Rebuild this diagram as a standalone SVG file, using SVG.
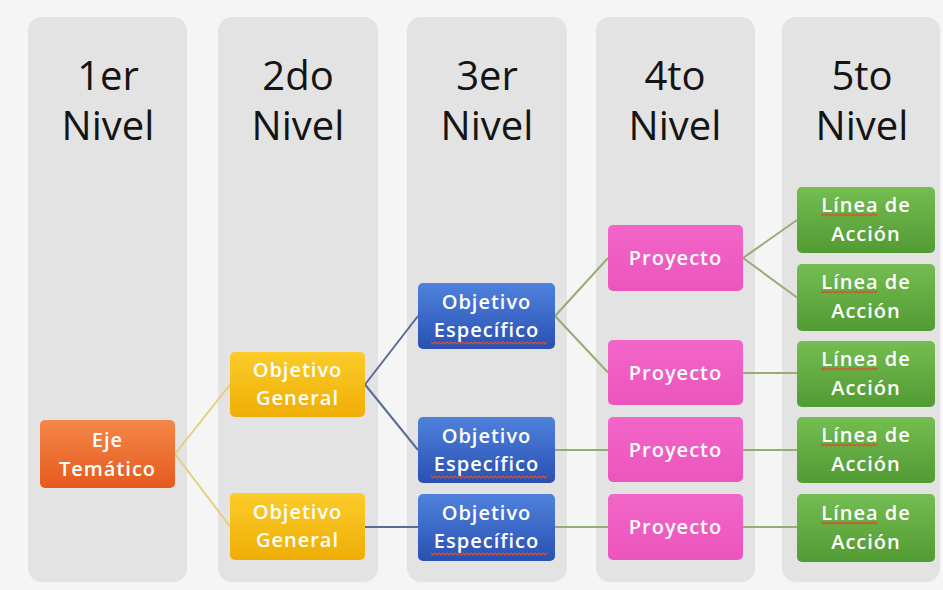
<svg xmlns="http://www.w3.org/2000/svg" width="943" height="590" viewBox="0 0 943 590">
<style>
.col{fill:#e3e3e3}
.title{font-family:"Open Sans","Liberation Sans",sans-serif;font-size:40px;fill:#141414;text-anchor:middle}
.lbl{font-family:"Open Sans","Liberation Sans",sans-serif;font-size:20px;font-weight:600;fill:#ffffff;text-anchor:middle;letter-spacing:1px}
.c1{stroke:#e6cf7e;stroke-width:2;fill:none}
.c2{stroke:#5a6b95;stroke-width:2;fill:none}
.c3{stroke:#93ad75;stroke-width:2;fill:none}
.sq{stroke:#d8502a;stroke-width:1.2;fill:none}
</style>
<defs>
<linearGradient id="gO" x1="0" y1="0" x2="0" y2="1"><stop offset="0" stop-color="#f5874a"/><stop offset="1" stop-color="#e45a1c"/></linearGradient>
<linearGradient id="gY" x1="0" y1="0" x2="0" y2="1"><stop offset="0" stop-color="#fbcc2a"/><stop offset="1" stop-color="#efae05"/></linearGradient>
<linearGradient id="gB" x1="0" y1="0" x2="0" y2="1"><stop offset="0" stop-color="#4f82dc"/><stop offset="1" stop-color="#2950b2"/></linearGradient>
<linearGradient id="gP" x1="0" y1="0" x2="0" y2="1"><stop offset="0" stop-color="#f266c8"/><stop offset="1" stop-color="#ec55bc"/></linearGradient>
<linearGradient id="gG" x1="0" y1="0" x2="0" y2="1"><stop offset="0" stop-color="#74bd51"/><stop offset="1" stop-color="#519b33"/></linearGradient>
<path id="sqE" d="M0 0 l2 2 l2 -2 l2 2 l2 -2 l2 2 l2 -2 l2 2 l2 -2 l2 2 l2 -2 l2 2 l2 -2 l2 2 l2 -2 l2 2 l2 -2 l2 2 l2 -2 l2 2 l2 -2 l2 2 l2 -2 l2 2 l2 -2 l2 2 l2 -2 l2 2 l2 -2 l2 2 l2 -2 l2 2 l2 -2 l2 2 l2 -2 l2 2 l2 -2 l2 2 l2 -2 l2 2 l2 -2 l2 2 l2 -2 l2 2 l2 -2 l2 2 l2 -2 l2 2 l2 -2 l2 2 l2 -2 l2 2 l2 -2 l2 2 l2 -2 l2 2 l2 -2 l2 2 l2 -2"/>
<path id="sqL" d="M0 0 l2 2 l2 -2 l2 2 l2 -2 l2 2 l2 -2 l2 2 l2 -2 l2 2 l2 -2 l2 2 l2 -2 l2 2 l2 -2 l2 2 l2 -2 l2 2 l2 -2 l2 2 l2 -2 l2 2 l2 -2 l2 2 l2 -2 l2 2 l2 -2 l2 2 l2 -2"/>
</defs>
<rect x="0" y="0" width="943" height="590" fill="#f5f5f5"/>
<g id="columns">
<rect class="col" x="28" y="17" width="159" height="565" rx="14"/>
<rect class="col" x="218" y="17" width="160" height="565" rx="14"/>
<rect class="col" x="407" y="17" width="160" height="565" rx="14"/>
<rect class="col" x="596" y="17" width="159" height="565" rx="14"/>
<rect class="col" x="782" y="17" width="158" height="565" rx="14"/>
<text class="title" x="108" y="90">1er</text><text class="title" x="108" y="140">Nivel</text>
<text class="title" x="298" y="90">2do</text><text class="title" x="298" y="140">Nivel</text>
<text class="title" x="487" y="90">3er</text><text class="title" x="487" y="140">Nivel</text>
<text class="title" x="675" y="90">4to</text><text class="title" x="675" y="140">Nivel</text>
<text class="title" x="862" y="90">5to</text><text class="title" x="862" y="140">Nivel</text>
</g>
<g id="connectors">
<line class="c1" x1="175" y1="454" x2="230" y2="384.5"/>
<line class="c1" x1="175" y1="454" x2="230" y2="526.5"/>
<line class="c2" x1="365" y1="384.5" x2="418" y2="316"/>
<line class="c2" x1="365" y1="384.5" x2="418" y2="450"/>
<line class="c2" x1="365" y1="527" x2="418" y2="527"/>
<line class="c3" x1="555" y1="316" x2="608" y2="258"/>
<line class="c3" x1="555" y1="316" x2="608" y2="372.5"/>
<line class="c3" x1="555" y1="450" x2="608" y2="450"/>
<line class="c3" x1="555" y1="527" x2="608" y2="527"/>
<line class="c3" x1="743" y1="258" x2="797" y2="220"/>
<line class="c3" x1="743" y1="258" x2="797" y2="297.5"/>
<line class="c3" x1="743" y1="373" x2="797" y2="373"/>
<line class="c3" x1="743" y1="450" x2="797" y2="450"/>
<line class="c3" x1="743" y1="527" x2="797" y2="527"/>
</g>
<g id="eje">
<rect x="40" y="420" width="135" height="68" rx="5" fill="url(#gO)"/>
<text class="lbl" x="107.5" y="447">Eje</text><text class="lbl" x="107.5" y="476">Temático</text>
</g>
<g id="og1">
<rect x="230" y="352" width="135" height="65" rx="5" fill="url(#gY)"/>
<text class="lbl" x="297.5" y="377">Objetivo</text><text class="lbl" x="297.5" y="405">General</text>
</g>
<g id="og2">
<rect x="230" y="493" width="135" height="67" rx="5" fill="url(#gY)"/>
<text class="lbl" x="297.5" y="519">Objetivo</text><text class="lbl" x="297.5" y="547">General</text>
</g>
<g id="oe1">
<rect x="418" y="283" width="137" height="66" rx="5" fill="url(#gB)"/>
<text class="lbl" x="486.5" y="309">Objetivo</text><text class="lbl" x="486.5" y="337">Específico</text>
<use href="#sqE" class="sq" x="431" y="342"/>
</g>
<g id="oe2">
<rect x="418" y="417" width="137" height="66" rx="5" fill="url(#gB)"/>
<text class="lbl" x="486.5" y="443">Objetivo</text><text class="lbl" x="486.5" y="471">Específico</text>
<use href="#sqE" class="sq" x="431" y="476"/>
</g>
<g id="oe3">
<rect x="418" y="494" width="137" height="67" rx="5" fill="url(#gB)"/>
<text class="lbl" x="486.5" y="520">Objetivo</text><text class="lbl" x="486.5" y="548">Específico</text>
<use href="#sqE" class="sq" x="431" y="553"/>
</g>
<g id="p1">
<rect x="608" y="225" width="135" height="66" rx="5" fill="url(#gP)"/>
<text class="lbl" x="675.5" y="265">Proyecto</text>
</g>
<g id="p2">
<rect x="608" y="340" width="135" height="65" rx="5" fill="url(#gP)"/>
<text class="lbl" x="675.5" y="380">Proyecto</text>
</g>
<g id="p3">
<rect x="608" y="417" width="135" height="65" rx="5" fill="url(#gP)"/>
<text class="lbl" x="675.5" y="457">Proyecto</text>
</g>
<g id="p4">
<rect x="608" y="494" width="135" height="66" rx="5" fill="url(#gP)"/>
<text class="lbl" x="675.5" y="534">Proyecto</text>
</g>
<g id="l1">
<rect x="797" y="187" width="138" height="66" rx="5" fill="url(#gG)"/>
<text class="lbl" x="866" y="212">Línea de</text><text class="lbl" x="866" y="241">Acción</text>
<use href="#sqL" class="sq" x="821" y="214"/>
</g>
<g id="l2">
<rect x="797" y="264" width="138" height="67" rx="5" fill="url(#gG)"/>
<text class="lbl" x="866" y="289">Línea de</text><text class="lbl" x="866" y="318">Acción</text>
<use href="#sqL" class="sq" x="821" y="291"/>
</g>
<g id="l3">
<rect x="797" y="341" width="138" height="66" rx="5" fill="url(#gG)"/>
<text class="lbl" x="866" y="366">Línea de</text><text class="lbl" x="866" y="395">Acción</text>
<use href="#sqL" class="sq" x="821" y="368"/>
</g>
<g id="l4">
<rect x="797" y="417" width="138" height="66" rx="5" fill="url(#gG)"/>
<text class="lbl" x="866" y="442">Línea de</text><text class="lbl" x="866" y="471">Acción</text>
<use href="#sqL" class="sq" x="821" y="444"/>
</g>
<g id="l5">
<rect x="797" y="494" width="138" height="68" rx="5" fill="url(#gG)"/>
<text class="lbl" x="866" y="520">Línea de</text><text class="lbl" x="866" y="549">Acción</text>
<use href="#sqL" class="sq" x="821" y="522"/>
</g>
</svg>
